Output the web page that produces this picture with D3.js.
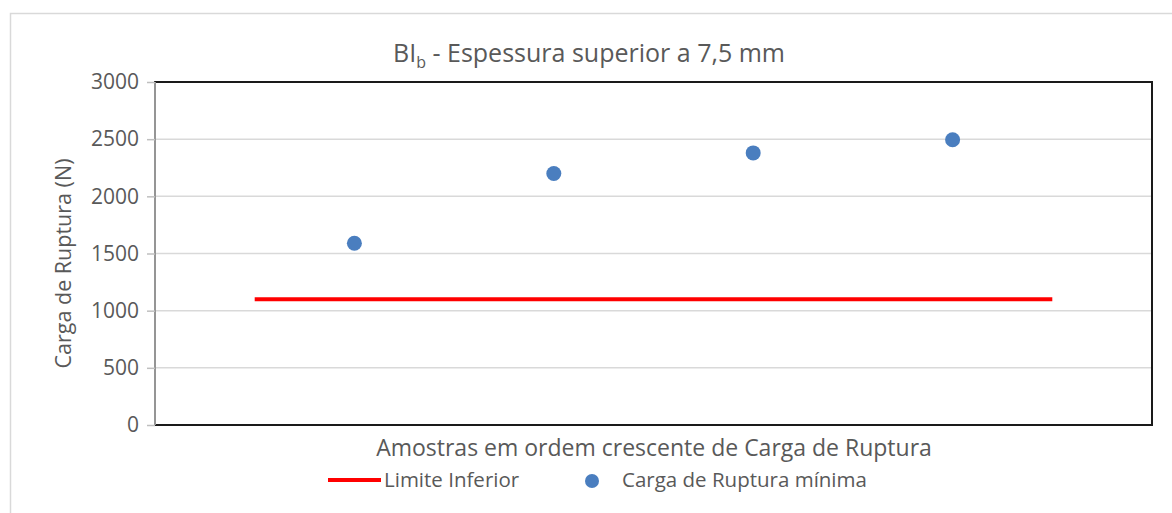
<html>
<head>
<meta charset="utf-8"/>
<title>BIb - Espessura superior a 7,5 mm</title>
<script src="https://cdn.jsdelivr.net/npm/d3@7"></script>
<style>
  body { margin: 0; background: #fff; }
  text { font-family: "Open Sans", sans-serif; fill: #595959; }
  .grid line { stroke: #d9d9d9; stroke-width: 1.5; }
  .yaxis path, .yaxis line { stroke: #bfbfbf; stroke-width: 1.5; }
</style>
</head>
<body>
<div id="chart"></div>
<script>
// data
var amostras = [1, 2, 3, 4];
var cargaRuptura = [1590, 2200, 2380, 2495];
var limiteX = [0.5, 4.5];
var limiteInferior = [1100, 1100];
var yTicks = [0, 500, 1000, 1500, 2000, 2500, 3000];

var w = 1172, h = 513;
var pLeft = 155, pRight = 1152, pTop = 82, pBottom = 425;

var svg = d3.select("#chart").append("svg")
    .attr("width", w)
    .attr("height", h);

// outer chart frame
svg.append("rect")
    .attr("x", 10.5).attr("y", 13.5)
    .attr("width", w).attr("height", h)
    .attr("fill", "none").attr("stroke", "#d9d9d9").attr("stroke-width", 1.5);

var xScale = d3.scaleLinear().domain([0, 5]).range([pLeft, pRight]);
var yScale = d3.scaleLinear().domain([0, 3000]).range([pBottom, pTop]);

// gridlines
svg.append("g").attr("class", "grid")
    .selectAll("line")
    .data(yTicks.slice(1, -1))
    .enter().append("line")
    .attr("x1", pLeft).attr("x2", pRight)
    .attr("y1", function(d) { return yScale(d); })
    .attr("y2", function(d) { return yScale(d); });

// plot area border
svg.append("rect")
    .attr("x", pLeft).attr("y", pTop)
    .attr("width", pRight - pLeft).attr("height", pBottom - pTop)
    .attr("fill", "none").attr("stroke", "#1a1a1a").attr("stroke-width", 2);

// y axis
var yAxis = d3.axisLeft(yScale)
    .tickValues(yTicks)
    .tickFormat(d3.format("d"))
    .tickSize(8).tickSizeOuter(0).tickPadding(6);
var gy = svg.append("g")
    .attr("class", "yaxis")
    .attr("transform", "translate(" + pLeft + ",0)")
    .call(yAxis);
gy.select(".domain").remove();
gy.append("line")
    .attr("x1", 0).attr("x2", 0)
    .attr("y1", pTop).attr("y2", pBottom);
gy.selectAll("text")
    .style("font-size", "21px")
    .attr("fill", "#595959")
    .attr("dx", "-2");

// limit line
svg.append("path")
    .datum(limiteX.map(function(x, i) { return [x, limiteInferior[i]]; }))
    .attr("fill", "none")
    .attr("stroke", "#ff0000")
    .attr("stroke-width", 4)
    .attr("d", d3.line()
        .x(function(d) { return xScale(d[0]); })
        .y(function(d) { return yScale(d[1]); }));

// points
svg.append("g")
    .selectAll("circle")
    .data(amostras)
    .enter().append("circle")
    .attr("cx", function(d) { return xScale(d); })
    .attr("cy", function(d, i) { return yScale(cargaRuptura[i]); })
    .attr("r", 7.5)
    .attr("fill", "#4a7ebf");

// title
var title = svg.append("text")
    .attr("x", 589).attr("y", 62)
    .attr("text-anchor", "middle")
    .style("font-size", "25px");
title.append("tspan").text("BI");
title.append("tspan").attr("dy", 6).style("font-size", "16px").text("b");
title.append("tspan").attr("dy", -6).text(" - Espessura superior a 7,5 mm");

// axis titles
svg.append("text")
    .attr("x", 654).attr("y", 456)
    .attr("text-anchor", "middle")
    .style("font-size", "23px")
    .text("Amostras em ordem crescente de Carga de Ruptura");

svg.append("text")
    .attr("transform", "translate(71," + ((pTop + pBottom) / 2 + 10) + ") rotate(-90)")
    .attr("text-anchor", "middle")
    .style("font-size", "21.5px")
    .text("Carga de Ruptura (N)");

// legend
var lg = svg.append("g").attr("transform", "translate(0,480)");
lg.append("line")
    .attr("x1", 328).attr("x2", 381)
    .attr("stroke", "#ff0000").attr("stroke-width", 4);
lg.append("text").attr("x", 384).attr("y", 7).style("font-size", "20.5px").text("Limite Inferior");
lg.append("circle").attr("cx", 592).attr("cy", 1).attr("r", 7).attr("fill", "#4a7ebf");
lg.append("text").attr("x", 622).attr("y", 7).style("font-size", "20.5px").text("Carga de Ruptura mínima");
</script>
</body>
</html>
